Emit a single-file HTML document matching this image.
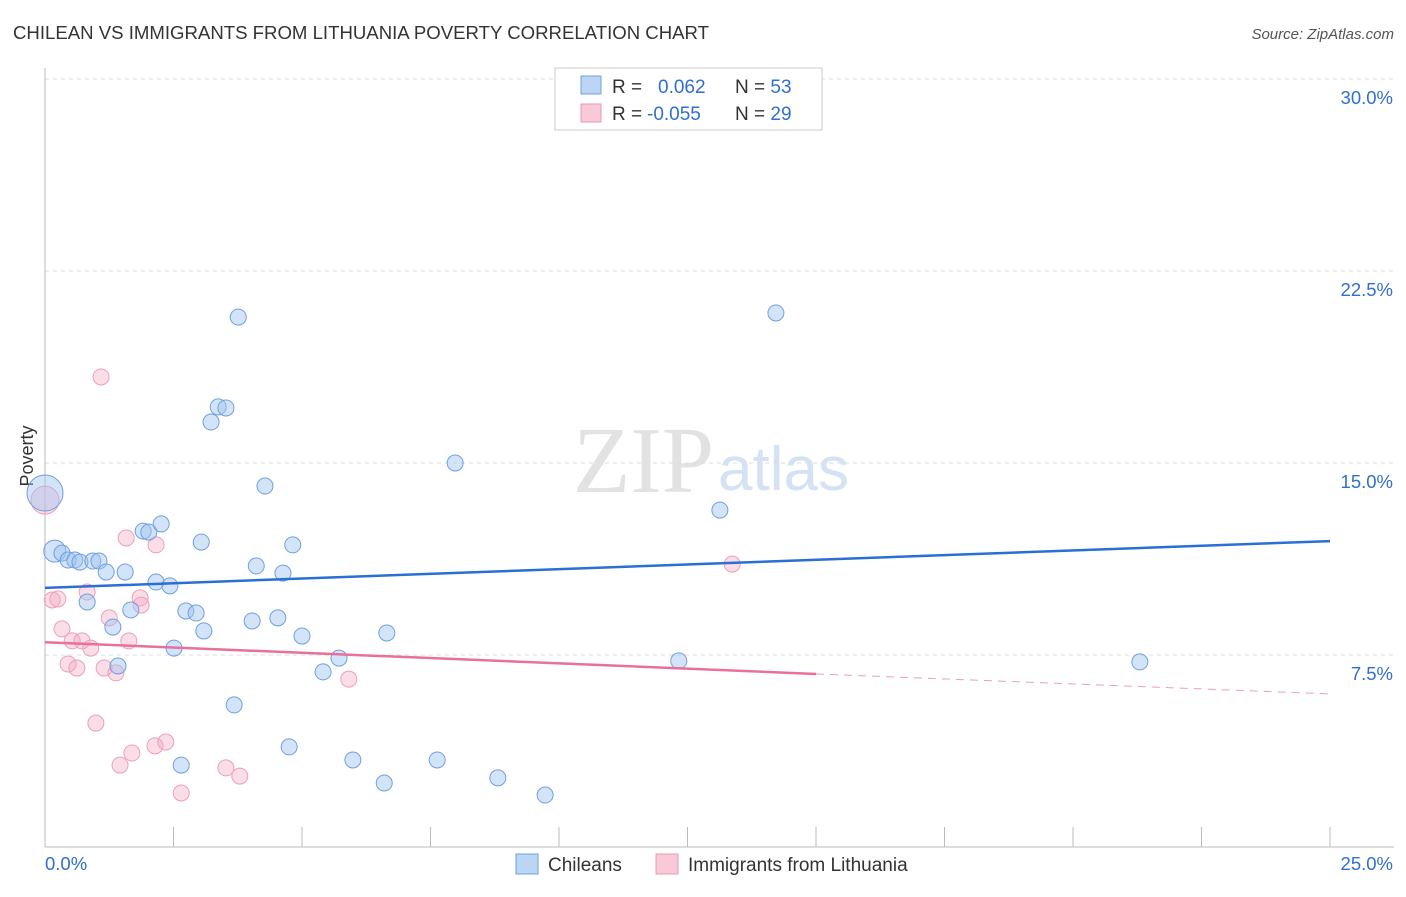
<!DOCTYPE html>
<html><head><meta charset="utf-8"><style>
body{margin:0;background:#fff;font-family:"Liberation Sans",sans-serif;}
</style></head><body>
<svg width="1406" height="892" xmlns="http://www.w3.org/2000/svg" id="chart">
<text x="13" y="39" font-size="18.6" fill="#333">CHILEAN VS IMMIGRANTS FROM LITHUANIA POVERTY CORRELATION CHART</text>
<text x="1394" y="39" font-size="15" fill="#555" font-style="italic" text-anchor="end">Source: ZipAtlas.com</text>
<text x="33" y="456" font-size="18" fill="#333" transform="rotate(-90 33 456)" text-anchor="middle">Poverty</text>
<text x="714" y="492" font-size="94" fill="#e2e2e2" text-anchor="end" font-family="Liberation Serif">ZIP</text>
<text x="718" y="490" font-size="62" fill="#d4e2f4">atlas</text>
<g id="grid"></g><g id="axes"></g><g id="marks"></g>
<g>
<rect x="555" y="68" width="267" height="62" fill="#fff" stroke="#ccc"/>
<rect x="581" y="76" width="20" height="18" fill="#bcd5f5" stroke="#6fa0e0"/>
<rect x="581" y="104" width="20" height="18" fill="#f9c9d8" stroke="#e899b3"/>
<text x="612" y="93" font-size="19" fill="#333">R = <tspan x="658" fill="#2f6fd0">0.062</tspan><tspan x="735" fill="#333">N = </tspan><tspan fill="#2f6fd0">53</tspan></text>
<text x="612" y="120" font-size="19" fill="#333">R = <tspan x="647" fill="#2f6fd0">-0.055</tspan><tspan x="735" fill="#333">N = </tspan><tspan fill="#2f6fd0">29</tspan></text>
</g>
<g>
<rect x="516" y="854" width="22" height="20" fill="#bcd5f5" stroke="#6fa0e0"/>
<text x="548" y="871" font-size="19" fill="#333">Chileans</text>
<rect x="656" y="854" width="22" height="20" fill="#f9c9d8" stroke="#e899b3"/>
<text x="688" y="871" font-size="19" fill="#333">Immigrants from Lithuania</text>
</g>
</svg>
<script>
const blueX=[0,0.19,0.33,0.45,0.58,0.68,0.93,1.05,1.19,1.56,0.82,1.32,1.42,1.67,1.91,2.02,2.26,2.16,2.43,2.51,2.65,2.74,2.94,3.04,3.09,3.23,3.37,3.52,3.76,3.68,4.03,4.11,4.28,4.53,4.63,4.75,4.82,5.0,5.41,5.72,5.99,6.60,6.65,7.63,7.98,8.81,9.73,12.33,13.13,14.22,21.3];
const blueY=[13.83,11.56,11.48,11.21,11.21,11.13,11.17,11.17,10.74,10.74,9.57,8.59,7.07,9.26,12.34,12.30,12.62,10.35,10.2,7.77,3.2,9.22,9.14,11.91,8.44,16.6,17.19,17.15,20.7,5.55,8.83,10.98,14.1,8.95,10.7,3.91,11.8,8.24,6.84,7.38,3.4,2.5,8.36,3.4,15.0,2.7,2.03,7.27,13.16,20.86,7.23];
const pinkX=[0,0.14,0.25,0.33,0.45,0.53,0.62,0.72,0.82,0.89,0.99,1.09,1.15,1.25,1.38,1.46,1.58,1.63,1.69,1.85,1.87,2.14,2.16,2.35,2.65,3.52,3.79,5.91,13.37];
const pinkY=[13.55,9.65,9.69,8.52,7.15,8.05,6.99,8.05,9.96,7.77,4.84,18.36,6.99,8.95,6.8,3.2,12.07,8.05,3.67,9.73,9.45,3.95,11.8,4.1,2.11,3.09,2.77,6.56,11.05];
const blueTrend=[10.12,11.95];
const pinkTrend=[8.0,6.76,5.98];
const yTicks=[7.5,15,22.5,30];
const yTickLabels=["7.5%","15.0%","22.5%","30.0%"];
const xTicks=[0,2.5,5,7.5,10,12.5,15,17.5,20,22.5,25];
const NS="http://www.w3.org/2000/svg";
const sx=v=>45+v*51.4, sy=v=>847-v*25.6;
function mk(t,a,p){const e=document.createElementNS(NS,t);for(const k in a)e.setAttribute(k,a[k]);p.appendChild(e);return e;}
const grid=document.getElementById('grid'),axes=document.getElementById('axes'),marks=document.getElementById('marks');
yTicks.forEach((t,i)=>{
 const l=mk('line',{x1:45,x2:1394,y1:sy(t),y2:sy(t),stroke:'#ddd','stroke-dasharray':'4,4'},grid);
 
 
 const tx=mk('text',{x:1393,y:sy(t)+25,'font-size':18.5,fill:'#2f6fd0','text-anchor':'end'},axes);
 tx.textContent=yTickLabels[i];
 
 
});
const ax=mk('line',{x1:45,x2:1394,y1:847,y2:847,stroke:'#bbb'},axes);


const ay=mk('line',{x1:45,x2:45,y1:68,y2:847,stroke:'#bbb'},axes);


xTicks.forEach(t=>{const l=mk('line',{x1:sx(t),x2:sx(t),y1:827,y2:847,stroke:'#bbb'},axes);
 
 });
const x0=mk('text',{x:45,y:870,'font-size':18.5,fill:'#2f6fd0'},axes);x0.textContent='0.0%';


const x1=mk('text',{x:1393,y:870,'font-size':18.5,fill:'#2f6fd0','text-anchor':'end'},axes);x1.textContent='25.0%';


pinkX.forEach((x,i)=>{const r=i===0?14:8;const c=mk('circle',{cx:sx(x),cy:sy(pinkY[i]),r:r,fill:'rgba(245,170,195,0.4)',stroke:'#eaa0bb','stroke-width':1},marks);
 
 });
blueX.forEach((x,i)=>{const r=i===0?18:(i===1?11:8);const c=mk('circle',{cx:sx(x),cy:sy(blueY[i]),r:r,fill:'rgba(160,195,240,0.45)',stroke:'#6fa0e0','stroke-width':1},marks);
 
 });
const bl=mk('line',{x1:sx(0),y1:sy(blueTrend[0]),x2:sx(25),y2:sy(blueTrend[1]),stroke:'#2a6fd6','stroke-width':2.5},marks);


const pl=mk('line',{x1:sx(0),y1:sy(pinkTrend[0]),x2:sx(15),y2:sy(pinkTrend[1]),stroke:'#e8709a','stroke-width':2.5},marks);


const pd=mk('line',{x1:sx(15),y1:sy(pinkTrend[1]),x2:sx(25),y2:sy(pinkTrend[2]),stroke:'#e8a0b8','stroke-width':1,'stroke-dasharray':'8,6'},marks);


</script>
</body></html>
